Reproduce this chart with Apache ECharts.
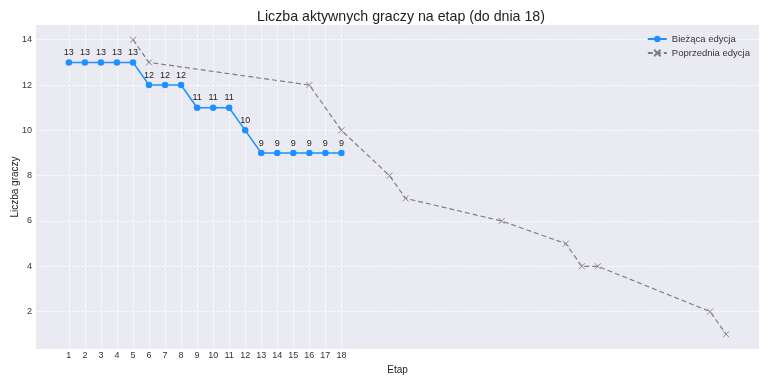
<!DOCTYPE html>
<html>
<head>
<meta charset="utf-8">
<script src="https://cdn.jsdelivr.net/npm/echarts@6/dist/echarts.min.js"></script>
<style>html,body{margin:0;padding:0;background:#fff;}#c{width:768px;height:384px;}</style>
</head>
<body>
<div id="c"></div>
<script>
const stages = [1,2,3,4,5,6,7,8,9,10,11,12,13,14,15,16,17,18];
const currentPlayers = [13,13,13,13,13,12,12,12,11,11,11,10,9,9,9,9,9,9];
const prevStages = [5,6,16,18,21,22,28,32,33,34,41,42];
const prevPlayers = [14,13,12,10,8,7,6,5,4,4,2,1];
const yTicks = [2,4,6,8,10,12,14];
const xTicks = stages;

const chart = echarts.init(document.getElementById('c'), null, {renderer:'canvas'});
const font = 'Liberation Sans, Arial, sans-serif';
const gridLine = {show:true, lineStyle:{color:'#ffffff', width:0.8, type:[3,1.5]}};
chart.setOption({
  animation:false,
  backgroundColor:'#ffffff',
  title:{text:'Liczba aktywnych graczy na etap (do dnia 18)', left:396, top:5, textAlign:'center',
    textStyle:{fontFamily:font, fontSize:14.2, fontWeight:'normal', color:'#222'}},
  legend:{orient:'vertical', right:13, top:29, itemGap:4, itemWidth:19, itemHeight:8,
    textStyle:{fontFamily:font, fontSize:9.5, color:'#333'},
    data:['Bieżąca edycja','Poprzednia edycja']},
  grid:{left:36, right:9, top:25, bottom:35, backgroundColor:'#EAEAF2', show:true, borderWidth:0,
    containLabel:false, outerBoundsMode:'none'},
  xAxis:{type:'value', min:-1.05, max:44.05, name:'Etap', nameLocation:'middle', nameGap:16,
    nameMoveOverlap:false,
    nameTextStyle:{fontFamily:font, fontSize:10, color:'#222'},
    axisLine:{show:false}, axisTick:{show:false, customValues:xTicks},
    axisLabel:{customValues:xTicks, fontFamily:font, fontSize:9, color:'#333', margin:2},
    splitLine:gridLine},
  yAxis:{type:'value', min:0.35, max:14.65, name:'Liczba graczy', nameLocation:'middle', nameGap:16,
    nameMoveOverlap:false,
    nameTextStyle:{fontFamily:font, fontSize:10, color:'#222'},
    axisLine:{show:false}, axisTick:{show:false, customValues:yTicks},
    axisLabel:{customValues:yTicks, fontFamily:font, fontSize:9, color:'#333', margin:4},
    splitLine:gridLine},
  series:[
    {name:'Bieżąca edycja', type:'line', data:stages.map((s,i)=>[s,currentPlayers[i]]),
      symbol:'circle', symbolSize:6.5, itemStyle:{color:'#1E90FF'},
      lineStyle:{color:'#1E90FF', width:1.5},
      label:{show:true, position:'top', distance:2, fontFamily:font, fontSize:9, color:'#222'}, z:3},
    {name:'Poprzednia edycja', type:'line', data:prevStages.map((s,i)=>[s,prevPlayers[i]]),
      symbol:'path://M0,0L10,10M10,0L0,10', symbolSize:6,
      itemStyle:{color:'#808080', borderColor:'#808080', borderWidth:0.9},
      lineStyle:{color:'#808080', width:1.2, type:[5,3]}, z:2}
  ]
});
</script>
</body>
</html>
